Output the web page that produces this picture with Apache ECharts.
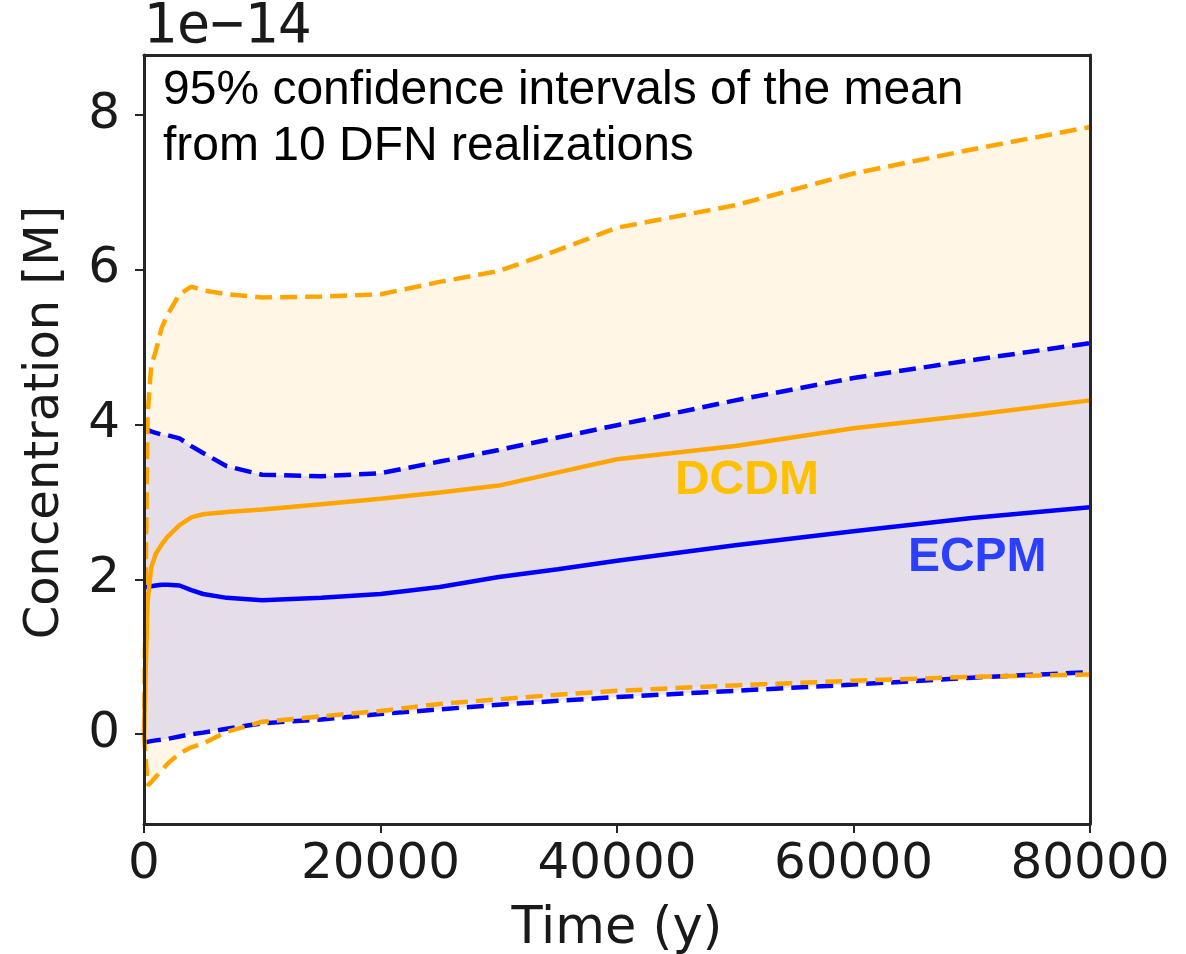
<!DOCTYPE html>
<html>
<head>
<meta charset="utf-8">
<script src="https://cdn.jsdelivr.net/npm/echarts@6/dist/echarts.min.js"></script>
<style>
html,body{margin:0;padding:0;background:#fff;}
#c{width:1186px;height:954px;}
</style>
</head>
<body>
<div id="c"></div>
<script>
// ---- data (units of 1e-14 M) ----
var times      = [0, 300, 600, 1000, 1500, 2000, 3000, 4000, 5000, 7000, 10000, 15000, 20000, 25000, 30000, 35000, 40000, 50000, 60000, 70000, 80000];
var dcdmMean   = [0, 1.70, 2.15, 2.33, 2.45, 2.55, 2.70, 2.80, 2.84, 2.87, 2.90, 2.97, 3.04, 3.12, 3.21, 3.38, 3.55, 3.72, 3.95, 4.12, 4.31];
var dcdmUpper  = [0, 4.10, 4.75, 4.95, 5.25, 5.42, 5.68, 5.78, 5.73, 5.68, 5.64, 5.65, 5.68, 5.84, 5.98, 6.25, 6.54, 6.83, 7.24, 7.55, 7.84];
var dcdmLower  = [0, -0.66, -0.62, -0.55, -0.47, -0.38, -0.25, -0.17, -0.12, 0.03, 0.16, 0.23, 0.30, 0.39, 0.45, 0.51, 0.56, 0.63, 0.69, 0.74, 0.77];
var ecpmMean   = [1.90, 1.90, 1.91, 1.92, 1.93, 1.93, 1.92, 1.86, 1.81, 1.76, 1.73, 1.76, 1.81, 1.90, 2.03, 2.13, 2.24, 2.44, 2.62, 2.79, 2.93];
var ecpmUpper  = [3.93, 3.93, 3.91, 3.89, 3.87, 3.86, 3.82, 3.72, 3.63, 3.46, 3.35, 3.33, 3.37, 3.52, 3.67, 3.83, 3.99, 4.31, 4.60, 4.83, 5.05];
var ecpmLower  = [-0.10, -0.10, -0.09, -0.08, -0.07, -0.06, -0.03, 0.00, 0.02, 0.07, 0.14, 0.19, 0.26, 0.32, 0.38, 0.43, 0.48, 0.56, 0.64, 0.73, 0.80];
var yTicks     = [0, 2, 4, 6, 8];
var labelDCDM  = [44900, 3.275];
var labelECPM  = [64600, 2.28];
var annotation = "95% confidence intervals of the mean\nfrom 10 DFN realizations";
var scaleText  = "1e\u221214";

function pairs(ys){ return times.map(function(t,i){ return [t, ys[i]]; }); }

var ORANGE = '#FFA500', BLUE = '#0000FF', AX = '#262626';

function band(up, lo, color){
  return {
    type:'custom', silent:true, z:1, data:[[0, 0]],
    renderItem:function(params, api){
      var pts = [], i;
      for (i = 0; i < times.length; i++) pts.push(api.coord([times[i], up[i]]));
      for (i = times.length - 1; i >= 0; i--) pts.push(api.coord([times[i], lo[i]]));
      return {type:'polygon', shape:{points:pts}, style:{fill:color, stroke:null}};
    }
  };
}
function line(ys, color, dashed, z){
  return {type:'line', data:pairs(ys), showSymbol:false, symbol:'none', silent:true, z:z,
          lineStyle:{color:color, width:4.5, type: dashed ? [17, 8] : 'solid', cap:'butt'}};
}
function textLabel(pos, text, color){
  return {type:'scatter', data:[pos], symbolSize:0, silent:true, z:6,
          itemStyle:{opacity:1},
          label:{show:true, position:'right', distance:0, formatter:text, opacity:1,
                 fontFamily:'Liberation Sans', fontWeight:'bold', fontSize:48, color:color}};
}

var chart = echarts.init(document.getElementById('c'), null, {renderer:'canvas'});
chart.setOption({
  animation:false,
  grid:{left:144, right:96, top:55, bottom:130, containLabel:false, outerBoundsMode:'none'},
  xAxis:[{
    type:'value', min:0, max:80000, interval:20000, position:'bottom',
    name:'Time (y)', nameLocation:'middle', nameGap:80,
    nameTextStyle:{fontFamily:'DejaVu Sans', fontSize:51, color:'#1a1a1a'},
    axisLine:{show:true, onZero:false, lineStyle:{color:AX, width:3}},
    axisTick:{show:true, inside:false, length:9, lineStyle:{color:AX, width:2}},
    axisLabel:{margin:16, showMinLabel:true, showMaxLabel:true, fontFamily:'DejaVu Sans', fontSize:50, color:'#1a1a1a',
               formatter:function(v){ return String(v); }},
    splitLine:{show:false}, z:10
  },{
    type:'value', min:0, max:80000, position:'top',
    axisLine:{show:true, onZero:false, lineStyle:{color:AX, width:3}},
    axisTick:{show:false}, axisLabel:{show:false}, splitLine:{show:false}, z:10
  }],
  yAxis:[{
    type:'value', min:-1.16, max:8.77, position:'left',
    name:'Concentration [M]', nameLocation:'middle', nameGap:74, nameRotate:90,
    nameTextStyle:{fontFamily:'DejaVu Sans', fontSize:48, color:'#1a1a1a', padding:[0,0,0,34]},
    axisLine:{show:true, onZero:false, lineStyle:{color:AX, width:3}},
    axisTick:{show:true, inside:false, length:9, lineStyle:{color:AX, width:2}, customValues:yTicks},
    axisLabel:{margin:24, customValues:yTicks, fontFamily:'DejaVu Sans', fontSize:50, color:'#1a1a1a'},
    splitLine:{show:false}, z:10
  },{
    type:'value', min:-1.16, max:8.77, position:'right',
    axisLine:{show:true, onZero:false, lineStyle:{color:AX, width:3}},
    axisTick:{show:false}, axisLabel:{show:false}, splitLine:{show:false}, z:10
  }],
  graphic:[
    {type:'text', left:163, top:63, z:20, style:{text:annotation, fontFamily:'Liberation Sans', fontSize:48, fill:'#000', lineHeight:56}},
    {type:'text', left:143, top:-1, z:20, style:{text:scaleText, fontFamily:'DejaVu Sans Mono', fontSize:56, fill:'#1a1a1a'}}
  ],
  series:[
    band(dcdmUpper, dcdmLower, 'rgba(255,165,0,0.1)'),
    band(ecpmUpper, ecpmLower, 'rgba(0,0,255,0.1)'),
    line(ecpmUpper, BLUE, true, 3),
    line(ecpmLower, BLUE, true, 3),
    line(ecpmMean, BLUE, false, 3),
    line(dcdmUpper, ORANGE, true, 4),
    line(dcdmLower, ORANGE, true, 4),
    line(dcdmMean, ORANGE, false, 4),
    textLabel(labelDCDM, 'DCDM', '#FFC000'),
    textLabel(labelECPM, 'ECPM', '#2B40FF')
  ]
});
</script>
</body>
</html>
